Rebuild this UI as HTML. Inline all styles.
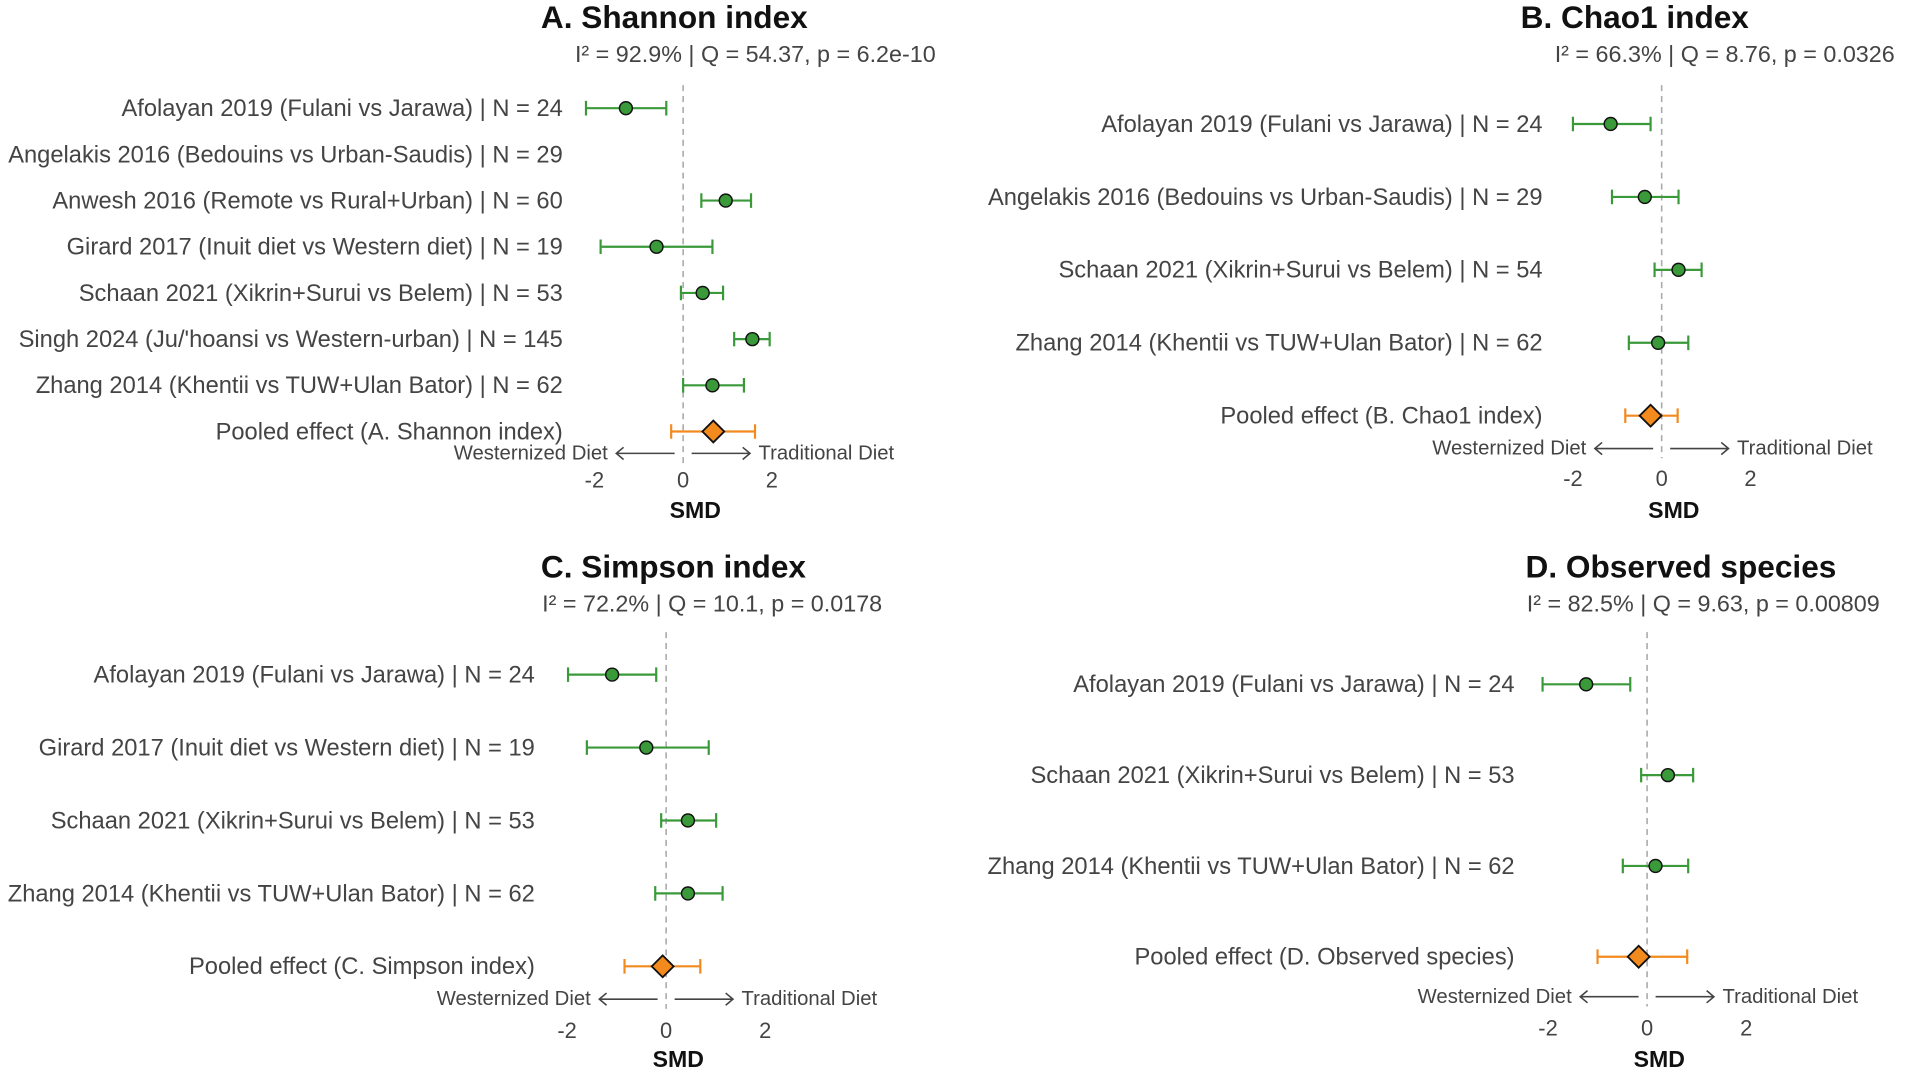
<!DOCTYPE html>
<html><head><meta charset="utf-8"><style>
html,body{margin:0;padding:0;background:#fff;}
svg{display:block;font-family:"Liberation Sans",sans-serif;}
</style></head><body>
<svg id="chart" width="1906" height="1075" viewBox="0 0 1568 884.4" preserveAspectRatio="none" xmlns="http://www.w3.org/2000/svg"></svg>
<script>
// Panel A
const labelsA = ["Afolayan 2019 (Fulani vs Jarawa) | N = 24","Angelakis 2016 (Bedouins vs Urban-Saudis) | N = 29","Anwesh 2016 (Remote vs Rural+Urban) | N = 60","Girard 2017 (Inuit diet vs Western diet) | N = 19","Schaan 2021 (Xikrin+Surui vs Belem) | N = 53","Singh 2024 (Ju/'hoansi vs Western-urban) | N = 145","Zhang 2014 (Khentii vs TUW+Ulan Bator) | N = 62","Pooled effect (A. Shannon index)"];
const smdA = [-1.29, null, 0.96, -0.6, 0.44, 1.56, 0.66, 0.68];
const lowA = [-2.19, null, 0.41, -1.86, -0.05, 1.15, 0.0, -0.27];
const highA = [-0.38, null, 1.53, 0.66, 0.9, 1.95, 1.37, 1.62];
// Panel B
const labelsB = ["Afolayan 2019 (Fulani vs Jarawa) | N = 24","Angelakis 2016 (Bedouins vs Urban-Saudis) | N = 29","Schaan 2021 (Xikrin+Surui vs Belem) | N = 54","Zhang 2014 (Khentii vs TUW+Ulan Bator) | N = 62","Pooled effect (B. Chao1 index)"];
const smdB = [-1.15, -0.38, 0.38, -0.08, -0.25];
const lowB = [-2.0, -1.12, -0.16, -0.74, -0.82];
const highB = [-0.25, 0.38, 0.9, 0.6, 0.36];
// Panel C
const labelsC = ["Afolayan 2019 (Fulani vs Jarawa) | N = 24","Girard 2017 (Inuit diet vs Western diet) | N = 19","Schaan 2021 (Xikrin+Surui vs Belem) | N = 53","Zhang 2014 (Khentii vs TUW+Ulan Bator) | N = 62","Pooled effect (C. Simpson index)"];
const smdC = [-1.09, -0.4, 0.44, 0.44, -0.07];
const lowC = [-1.98, -1.6, -0.1, -0.22, -0.84];
const highC = [-0.2, 0.86, 1.01, 1.14, 0.69];
// Panel D
const labelsD = ["Afolayan 2019 (Fulani vs Jarawa) | N = 24","Schaan 2021 (Xikrin+Surui vs Belem) | N = 53","Zhang 2014 (Khentii vs TUW+Ulan Bator) | N = 62","Pooled effect (D. Observed species)"];
const smdD = [-1.23, 0.42, 0.17, -0.17];
const lowD = [-2.11, -0.12, -0.49, -1.0];
const highD = [-0.34, 0.93, 0.83, 0.81];
const tickValues = [-2, 0, 2];
const titles = ["A. Shannon index","B. Chao1 index","C. Simpson index","D. Observed species"];
const stats = ["I² = 92.9% | Q = 54.37, p = 6.2e-10","I² = 66.3% | Q = 8.76, p = 0.0326","I² = 72.2% | Q = 10.1, p = 0.0178","I² = 82.5% | Q = 9.63, p = 0.00809"];

const NS="http://www.w3.org/2000/svg";
const svg=document.getElementById('chart');
function mk(tag,attrs,parent){const e=document.createElementNS(NS,tag);for(const k in attrs)e.setAttribute(k,attrs[k]);(parent||svg).appendChild(e);return e;}

const layouts=[
 {labels:labelsA,smd:smdA,low:lowA,high:highA,zero:562,unit:36.5,y0:89,dy:38,labelX:463,titleX:445,statX:473,titleY:23,statY:51,dashTop:70,arrowY:373,tickY:401,smdY:426},
 {labels:labelsB,smd:smdB,low:lowB,high:highB,zero:1367,unit:36.5,y0:102,dy:60,labelX:1269,titleX:1251,statX:1279,titleY:23,statY:51,dashTop:70,arrowY:369,tickY:400,smdY:426},
 {labels:labelsC,smd:smdC,low:lowC,high:highC,zero:548,unit:40.75,y0:555,dy:60,labelX:440,titleX:445,statX:446,titleY:475,statY:503,dashTop:520,arrowY:822,tickY:854,smdY:878},
 {labels:labelsD,smd:smdD,low:lowD,high:highD,zero:1355,unit:40.75,y0:563,dy:74.7,labelX:1246,titleX:1255,statX:1256,titleY:475,statY:503,dashTop:520,arrowY:820,tickY:852,smdY:878}
];

layouts.forEach((L,pi)=>{
 const g=mk('g',{});
 
 
 const xs=v=>L.zero+v*L.unit;
 const ys=i=>L.y0+i*L.dy;
 const n=L.labels.length;
 const t=mk('text',{x:L.titleX,y:L.titleY,'font-size':26,'font-weight':'bold',fill:'#111'},g);t.textContent=titles[pi];
 
 
 const s=mk('text',{x:L.statX,y:L.statY,'font-size':19.2,fill:'#444'},g);s.textContent=stats[pi];
 
 
 const d=mk('line',{x1:xs(0),x2:xs(0),y1:L.dashTop,y2:L.arrowY+8,stroke:'#aaa','stroke-width':1.3,'stroke-dasharray':'5,4'},g);
 
 
 for(let i=0;i<n;i++){
  const y=ys(i);
  const lb=mk('text',{x:L.labelX,y:y+6.5,'font-size':19.5,fill:'#444','text-anchor':'end'},g);lb.textContent=L.labels[i];
  
  
  if(L.smd[i]===null)continue;
  const pooled=i===n-1;
  const col=pooled?'#f28a1e':'#3a9a3a';
  const x1=xs(L.low[i]),x2=xs(L.high[i]);
  const eb=mk('path',{d:`M${x1},${y}H${x2}M${x1},${y-6}V${y+6}M${x2},${y-6}V${y+6}`,stroke:col,'stroke-width':1.8,fill:'none'},g);
  
  
  const cx=xs(L.smd[i]);
  let m;
  if(pooled){m=mk('path',{d:`M${cx-9},${y}L${cx},${y-9}L${cx+9},${y}L${cx},${y+9}Z`,fill:'#f28a1e',stroke:'#111','stroke-width':1.5},g);}
  else{m=mk('circle',{cx:cx,cy:y,r:5.3,fill:'#3a9a3a',stroke:'#111','stroke-width':1.2},g);}
  
  
 }
 const ay=L.arrowY, z=xs(0);
 const ar=mk('path',{d:`M${z-7},${ay}H${z-55}M${z-49},${ay-5}L${z-55},${ay}L${z-49},${ay+5}M${z+7},${ay}H${z+55}M${z+49},${ay-5}L${z+55},${ay}L${z+49},${ay+5}`,stroke:'#444','stroke-width':1.3,fill:'none'},g);
 
 
 const wl=mk('text',{x:z-62,y:ay+5,'font-size':16.7,fill:'#444','text-anchor':'end'},g);wl.textContent='Westernized Diet';
 
 
 const tl=mk('text',{x:z+62,y:ay+5,'font-size':16.7,fill:'#444'},g);tl.textContent='Traditional Diet';
 
 
 tickValues.forEach(v=>{
  const tk=mk('text',{x:xs(v),y:L.tickY,'font-size':18,fill:'#444','text-anchor':'middle'},g);tk.textContent=v;
  
  
 });
 const st=mk('text',{x:xs(0)+10,y:L.smdY,'font-size':19,'font-weight':'bold',fill:'#111','text-anchor':'middle'},g);st.textContent='SMD';
 
 
});
</script>
</body></html>
